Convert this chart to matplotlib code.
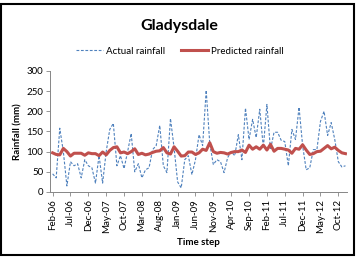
import datetime as dt
import matplotlib
matplotlib.use("Agg")
import matplotlib.pyplot as plt
from matplotlib.patches import Rectangle

plt.rcParams['font.family'] = ['Lato', 'DejaVu Sans']

# monthly series, Feb-06 .. Dec-12
actual = [45, 35, 158, 100, 15, 75, 65, 70, 35, 80, 65, 60, 22, 90, 22, 100,
          155, 170, 65, 90, 58, 100, 145, 50, 70, 35, 55, 60, 105, 115, 165, 65,
          48, 182, 110, 25, 10, 80, 90, 43, 80, 142, 115, 252, 120, 68, 80, 75,
          48, 85, 100, 90, 142, 80, 208, 130, 180, 135, 205, 110, 217, 105, 148,
          148, 128, 125, 65, 155, 130, 210, 115, 55, 60, 105, 105, 175, 200, 140,
          172, 130, 75, 62, 65]
predicted = [97, 93, 92, 108, 100, 89, 96, 96, 96, 91, 97, 95, 95, 90, 99, 92,
             103, 110, 112, 97, 99, 95, 100, 107, 93, 96, 92, 94, 98, 101, 102, 110,
             97, 94, 112, 101, 89, 90, 99, 99, 93, 97, 106, 103, 122, 100, 96, 98,
             97, 94, 98, 100, 100, 104, 98, 116, 106, 112, 106, 116, 104, 118, 101,
             108, 108, 106, 104, 96, 108, 106, 117, 104, 93, 95, 100, 101, 108, 115,
             107, 111, 103, 97, 95]

months = []
y, m = 2006, 2
for _ in range(len(actual)):
    months.append(dt.date(y, m, 1).strftime('%b-%y'))
    m += 1
    if m > 12:
        m, y = 1, y + 1

x = list(range(len(actual)))

fig = plt.figure(figsize=(3.58, 2.57), dpi=100)
ax = fig.add_axes([0.140, 0.253, 0.829, 0.471])

ax.plot(x, actual, color='#4F81BD', lw=0.8, ls=(0, (2.5, 1.5)), label='Actual rainfall')
ax.plot(x, predicted, color='#C0504D', lw=2.2, label='Predicted rainfall')

ax.set_xlim(-0.7, 82.4)
ax.set_ylim(0, 300)
ax.set_yticks(range(0, 301, 50))
ax.set_xticks(x[::5])
ax.set_xticklabels(months[::5], rotation=90)
ax.tick_params(labelsize=7, length=3, width=0.6, color='#868686', pad=2)

for s in ['top', 'right']:
    ax.spines[s].set_visible(False)
for s in ['left', 'bottom']:
    ax.spines[s].set_color('#868686')
    ax.spines[s].set_linewidth(0.7)

ax.set_ylabel('Rainfall (mm)', fontsize=7, fontweight='bold', labelpad=3)
ax.set_xlabel('Time step', fontsize=7, fontweight='bold', labelpad=4)
fig.text(0.5, 0.900, 'Gladysdale', ha='center', va='center', fontsize=11.5,
         fontweight='bold')

fig.legend(loc='center', bbox_to_anchor=(0.503, 0.80), ncol=2, frameon=False,
           fontsize=7, handlelength=2.8, handletextpad=0.3, columnspacing=1.6)

fig.add_artist(Rectangle((0.004, 0.008), 0.986, 0.977, transform=fig.transFigure,
                         fill=False, ec='black', lw=1.5))

fig.savefig('out.png', dpi=100)
